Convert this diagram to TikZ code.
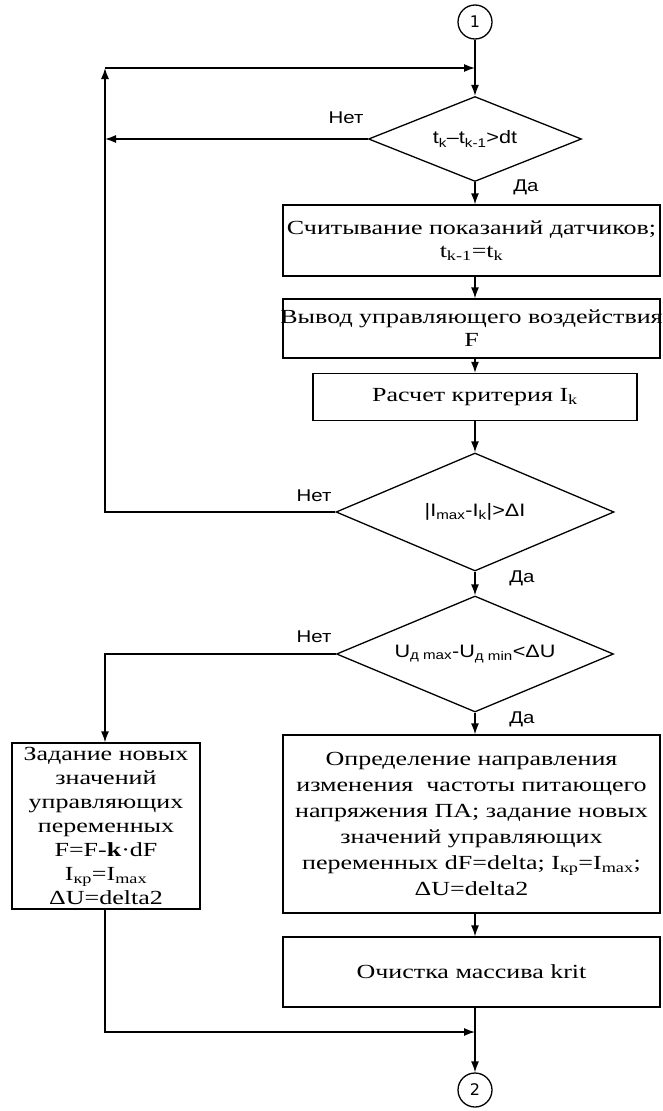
\documentclass[tikz,border=0pt]{standalone}
\usepackage{fontspec}
\usetikzlibrary{shapes.geometric,arrows.meta}
\newfontfamily\boxfam[FakeStretch=1.3]{Liberation Serif}
\newfontfamily\lblfam[FakeStretch=1.2]{Liberation Sans}
\newfontfamily\numfam{DejaVu Sans}
\tikzset{
  conn/.style={line width=1.3pt},
  arr/.style={conn,-{Latex[length=11pt,width=8pt]}},
  stepbox/.style={draw,line width=1.3pt,inner sep=1pt,align=center,
    font=\boxfam\fontsize{20}{23}\selectfont},
  dia/.style={diamond,draw,line width=1.3pt,inner sep=0pt,aspect=2.4,
    font=\lblfam\fontsize{18}{21}\selectfont},
  lbl/.style={inner sep=0pt,font=\lblfam\fontsize{17}{20}\selectfont},
  conncirc/.style={circle,draw,line width=1.3pt,minimum size=34pt,inner sep=0pt,
    font=\numfam\fontsize{16}{18}\selectfont},
}
\begin{document}
\begin{tikzpicture}[x=1pt,y=-1pt]
\useasboundingbox (0,0) rectangle (662,1111);
\node[conncirc] (c1) at (475,22) {1};
\coordinate (mtop) at (475,68);
\node[dia,minimum width=213pt,minimum height=85pt] (d1) at (475,139)
  {t\textsubscript{k}–t\textsubscript{k-1}>dt};
\node[stepbox,minimum width=377pt,minimum height=71pt] (b1) at (471.5,240.5)
  {Считывание показаний датчиков;\\t\textsubscript{k-1}=t\textsubscript{k}};
\node[stepbox,minimum width=377pt,minimum height=59pt] (b2) at (471.5,328.5)
  {\makebox[0pt]{Вывод управляющего воздействия}\\\makebox[0pt]{F}};
\node[stepbox,minimum width=324pt,minimum height=47pt] (b3) at (475,397)
  {Расчет критерия I\textsubscript{k}};
\node[dia,minimum width=278pt,minimum height=118pt] (d2) at (475,512)
  {|I\textsubscript{max}-I\textsubscript{k}|>ΔI};
\node[dia,minimum width=277pt,minimum height=116pt] (d3) at (475,654)
  {U\textsubscript{д max}-U\textsubscript{д min}<ΔU};
\node[stepbox,minimum width=377pt,minimum height=178pt,
  font=\boxfam\fontsize{20}{26}\selectfont] (b4) at (471.5,824)
  {Определение направления\\изменения\ \ частоты питающего\\напряжения ПА; задание новых\\значений управляющих\\переменных dF=delta; I\textsubscript{кр}=I\textsubscript{max};\\ΔU=delta2};
\node[stepbox,minimum width=188pt,minimum height=166pt,
  font=\boxfam\fontsize{20}{24}\selectfont] (b5) at (106,826)
  {Задание новых\\значений\\управляющих\\переменных\\F=F-\textbf{k}·dF\\I\textsubscript{кр}=I\textsubscript{max}\\ΔU=delta2};
\node[stepbox,minimum width=377pt,minimum height=70pt] (b6) at (471.5,972)
  {Очистка массива krit};
\node[conncirc] (c2) at (475,1090) {2};
\coordinate (ltop) at (105,68);
\coordinate (lmid) at (105,512);
\coordinate (lnet1) at (105,139);
\coordinate (lbot) at (105,1032);
\coordinate (mbot) at (475,1032);
\coordinate (lleft) at (105,654);
\draw[conn] (c1.south) -- (mtop);
\draw[arr] (mtop) -- (d1.north);
\draw[arr] (d1.south) -- (d1.south |- b1.north);
\draw[arr] (d1.south |- b1.south) -- (d1.south |- b2.north);
\draw[arr] (d1.south |- b2.south) -- (d1.south |- b3.north);
\draw[arr] (d1.south |- b3.south) -- (d2.north);
\draw[arr] (d2.south) -- (d3.north);
\draw[arr] (d3.south) -- (d3.south |- b4.north);
\draw[arr] (d3.south |- b4.south) -- (d3.south |- b6.north);
\draw[arr] (d3.south |- b6.south) -- (c2.north);
\draw[arr] (d1.west) -- (lnet1);
\draw[arr] (d2.west) -- (lmid) -- (ltop);
\draw[arr] (ltop) -- (mtop);
\draw[arr] (d3.west) -- (lleft) -- (b5.north -| lleft);
\draw[arr] (b5.south -| lbot) -- (lbot) -- (mbot);
\node[lbl] (n1) at (346,118) {Нет};
\node[lbl] (y1) at (526,187) {Да};
\node[lbl] (n2) at (314,496) {Нет};
\node[lbl] (y2) at (522,578) {Да};
\node[lbl] (n3) at (314,637) {Нет};
\node[lbl] (y3) at (522,719) {Да};
\end{tikzpicture}
\end{document}
